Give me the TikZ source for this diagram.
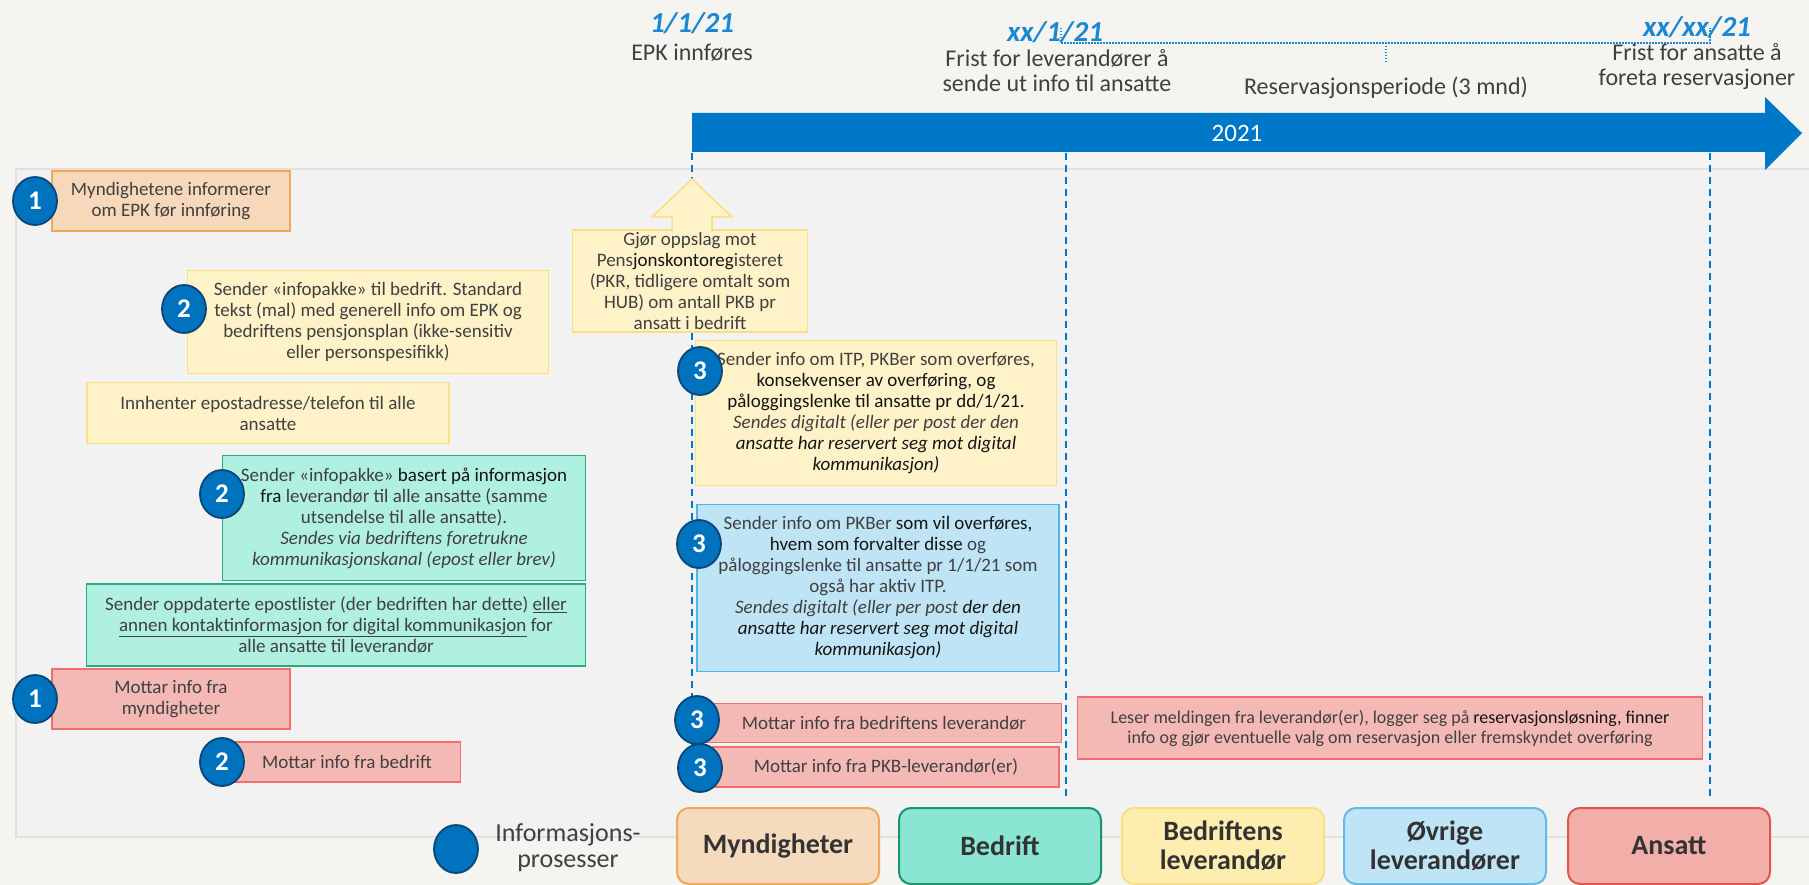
\documentclass[tikz,border=0pt]{standalone}
\usepackage{fontspec}
\setmainfont{Carlito}
\usetikzlibrary{shapes.geometric}
\definecolor{bgout}{RGB}{246,244,241}
\definecolor{panelfill}{RGB}{242,242,242}
\definecolor{panelline}{RGB}{224,224,224}
\definecolor{arrowblue}{RGB}{0,120,200}
\definecolor{dateblue}{RGB}{25,135,210}
\definecolor{txt}{RGB}{64,64,64}
\definecolor{dark}{RGB}{20,20,20}
\definecolor{orfill}{RGB}{247,216,186}
\definecolor{orline}{RGB}{238,168,88}
\definecolor{yefill}{RGB}{253,242,200}
\definecolor{yeline}{RGB}{250,222,130}
\definecolor{tefill}{RGB}{176,240,224}
\definecolor{teline}{RGB}{40,170,130}
\definecolor{blfill}{RGB}{190,228,246}
\definecolor{blline}{RGB}{80,180,230}
\definecolor{refill}{RGB}{244,185,180}
\definecolor{reline}{RGB}{240,110,110}
\definecolor{numfill}{RGB}{0,114,190}
\definecolor{numline}{RGB}{10,70,120}
\definecolor{lgmyfill}{RGB}{246,218,190}
\definecolor{lgbefill}{RGB}{138,230,210}
\definecolor{lgbeline}{RGB}{20,150,110}
\definecolor{lglefill}{RGB}{253,238,175}
\definecolor{lgovfill}{RGB}{190,228,245}
\definecolor{lgovline}{RGB}{100,185,230}
\definecolor{lganfill}{RGB}{242,175,170}
\definecolor{lganline}{RGB}{225,85,75}
\newcommand{\dk}[1]{\textcolor{dark}{#1}}
\tikzset{
  box/.style={draw, line width=1.5pt, align=center, inner sep=0pt, text=txt,
    font=\fontsize{19}{21}\selectfont},
  num/.style={ellipse, draw=numline, fill=numfill, line width=1.8pt,
    minimum width=44pt, minimum height=48pt, inner sep=0pt, text=white,
    font=\bfseries\fontsize{27}{27}\selectfont},
  lg/.style={draw, line width=2pt, rounded corners=12pt, align=center,
    minimum width=202pt, minimum height=76pt, inner sep=0pt, text=black!80,
    font=\bfseries\fontsize{28}{29}\selectfont},
  toplbl/.style={align=center, inner sep=0pt, text=txt,
    font=\fontsize{24}{25}\selectfont},
  datelbl/.style={inner sep=0pt, text=dateblue,
    font=\bfseries\itshape\fontsize{29}{29}\selectfont},
  vdash/.style={draw=arrowblue, line width=2pt, dash pattern=on 7pt off 5pt},
  vdot/.style={draw=dateblue, line width=2.5pt, dash pattern=on 1.5pt off 1.5pt},
}
\begin{document}
\begin{tikzpicture}[x=1pt,y=-1pt]
\useasboundingbox (0,0) rectangle (1809,885);
\clip (0,0) rectangle (1809,885);
\fill[bgout] (0,0) rectangle (1809,885);
\draw[panelline, fill=panelfill, line width=2pt] (16,169) rectangle (1840,837);

% timeline arrow
\fill[arrowblue] (692,113) -- (1765,113) -- (1765,97) -- (1802,133) -- (1765,170) -- (1765,152) -- (692,152) -- cycle;
\node[text=white, inner sep=0pt, font=\fontsize{25}{25}\selectfont] (yr) at (1237,133) {2021};

% top labels
\node[datelbl] (d1) at (692,23) {1/1/21};
\node[toplbl] (t1) at (692,53) {EPK innføres};
\node[datelbl] (d2) at (1055,32) {xx/1/21};
\node[toplbl] (t2) at (1057,71) {Frist for leverandører å\\sende ut info til ansatte};
\node[toplbl] (t3) at (1386,88) {Reservasjonsperiode (3 mnd)};
\node[datelbl] (d3) at (1697,27) {xx/xx/21};
\node[toplbl] (t4) at (1697,67) {Frist for ansatte å\\foreta reservasjoner};

% dotted bracket
\coordinate (bl) at (1061,28); \coordinate (blb) at (1061,43);
\coordinate (br) at (1710,28); \coordinate (brb) at (1710,43);
\coordinate (bm) at (1386,43); \coordinate (bmb) at (1386,64);
\draw[vdot] (bl) -- (blb) -- (brb) -- (br);
\draw[vdot] (bm) -- (bmb);

% vertical dashed lines
\coordinate (v1t) at (692,153); \coordinate (v1b) at (692,790);
\coordinate (v2t) at (1066,153); \coordinate (v2b) at (1066,798);
\coordinate (v3t) at (1710,153); \coordinate (v3b) at (1710,800);
\draw[vdash] (v1t) -- (v1b);
\draw[vdash] (v2t) -- (v2b);
\draw[vdash] (v3t) -- (v3b);

% left column boxes
\node[box, fill=orfill, draw=orline, minimum width=238pt, minimum height=60pt] (b1) at (171,201)
  {Myndighetene informerer\\om EPK før innføring};
\node[box, fill=yefill, draw=yeline, minimum width=361pt, minimum height=103pt] (b2) at (368,322)
  {Sender «infopakke» til bedrift. Standard\\tekst (mal) med generell info om EPK og\\bedriftens pensjonsplan (ikke-sensitiv\\eller personspesifikk)};
\node[box, fill=yefill, draw=yeline, minimum width=362pt, minimum height=61pt] (b3) at (268,413)
  {Innhenter epostadresse/telefon til alle\\ansatte};
\node[box, fill=tefill, draw=teline, minimum width=363pt, minimum height=125pt] (b4) at (404,518)
  {Sender «infopakke» \dk{basert på informasjon}\\\dk{fra} leverandør til alle ansatte (samme\\utsendelse til alle ansatte).\\\textit{Sendes via bedriftens foretrukne}\\\textit{kommunikasjonskanal (epost eller brev)}};
\node[box, fill=tefill, draw=teline, minimum width=499pt, minimum height=82pt] (b5) at (336,625)
  {Sender oppdaterte epostlister (der bedriften har dette) \underline{eller}\\\underline{annen kontaktinformasjon for digital kommunikasjon} for\\alle ansatte til leverandør};
\node[box, fill=refill, draw=reline, minimum width=238pt, minimum height=60pt] (b6) at (171,699)
  {Mottar info fra\\myndigheter};
\node[box, fill=refill, draw=reline, minimum width=227pt, minimum height=40pt] (b7) at (347,762)
  {Mottar info fra bedrift};

% up arrow + lookup box
\coordinate (ua1) at (672,232); \coordinate (ua2) at (672,217); \coordinate (ua3) at (652,217);
\coordinate (uat) at (692,179); \coordinate (ua4) at (732,217); \coordinate (ua5) at (712,217);
\coordinate (ua6) at (712,232);
\node[box, fill=yefill, draw=yeline, minimum width=235pt, minimum height=102pt] (b8) at (690,281)
  {Gjør oppslag mot\\Pens\dk{jonskontoreg}isteret\\(PKR, tidligere omtalt som\\HUB) om antall PKB pr\\ansatt i bedrift};
\fill[yefill] (ua1) -- (ua2) -- (ua3) -- (uat) -- (ua4) -- (ua5) -- (ua6) -- cycle;
\draw[yeline, line width=1.5pt, line join=miter] (ua1) -- (ua2) -- (ua3) -- (uat) -- (ua4) -- (ua5) -- (ua6);

% middle column boxes
\node[box, fill=yefill, draw=yeline, minimum width=361pt, minimum height=145pt] (b9) at (876,413)
  {Sender info om ITP, PKBer som overføres,\\\dk{konsekvenser av overføring, og}\\\dk{påloggingslenke til ansatte pr dd/1/21.}\\\textit{Sendes digitalt (eller per post der den}\\\textit{\dk{ansatte har reservert seg mot digital}}\\\textit{\dk{kommunikasjon)}}};
\node[box, fill=blfill, draw=blline, minimum width=362pt, minimum height=167pt] (b10) at (878,588)
  {Sender info om PKBer \dk{som vil overføres,}\\\dk{hvem som forvalter disse} og\\påloggingslenke til ansatte pr 1/1/21 som\\også har aktiv ITP.\\\textit{Sendes digitalt (eller per post \dk{der den}}\\\textit{\dk{ansatte har reservert seg mot digital}}\\\textit{\dk{kommunikasjon)}}};
\node[box, fill=refill, draw=reline, minimum width=355pt, minimum height=39pt] (b11) at (884,723)
  {Mottar info fra bedriftens leverandør};
\node[box, fill=refill, draw=reline, minimum width=346pt, minimum height=40pt] (b12) at (886,767)
  {Mottar info fra PKB-leverandør(er)};
\node[box, fill=refill, draw=reline, minimum width=625pt, minimum height=62pt,
  font=\fontsize{18}{20}\selectfont] (b13) at (1390,728)
  {Leser meldingen fra leverandør(er), logger seg på \dk{reservasjonsløsning, finner}\\info og gjør eventuelle valg om reservasjon eller fremskyndet overføring};

% number circles
\node[num] (n1a) at (35,201) {1};
\node[num] (n2a) at (184,309) {2};
\node[num] (n2b) at (222,494) {2};
\node[num] (n1b) at (35,699) {1};
\node[num] (n2c) at (222,762) {2};
\node[num] (n3a) at (700,371) {3};
\node[num] (n3b) at (699,544) {3};
\node[num] (n3c) at (697,720) {3};
\node[num] (n3d) at (700,768) {3};

% legend
\node[num] (lgc) at (456,849) {};
\node[align=center, inner sep=0pt, text=txt, font=\fontsize{26}{26}\selectfont] (lgt) at (568,848)
  {Informasjons-\\prosesser};
\node[lg, fill=lgmyfill, draw=orline] (lg1) at (778,846) {Myndigheter};
\node[lg, fill=lgbefill, draw=lgbeline] (lg2) at (1000,846) {Bedrift};
\node[lg, fill=lglefill, draw=yeline] (lg3) at (1223,846) {Bedriftens\\leverandør};
\node[lg, fill=lgovfill, draw=lgovline] (lg4) at (1445,846) {Øvrige\\leverandører};
\node[lg, fill=lganfill, draw=lganline] (lg5) at (1669,846) {Ansatt};
\end{tikzpicture}
\end{document}
